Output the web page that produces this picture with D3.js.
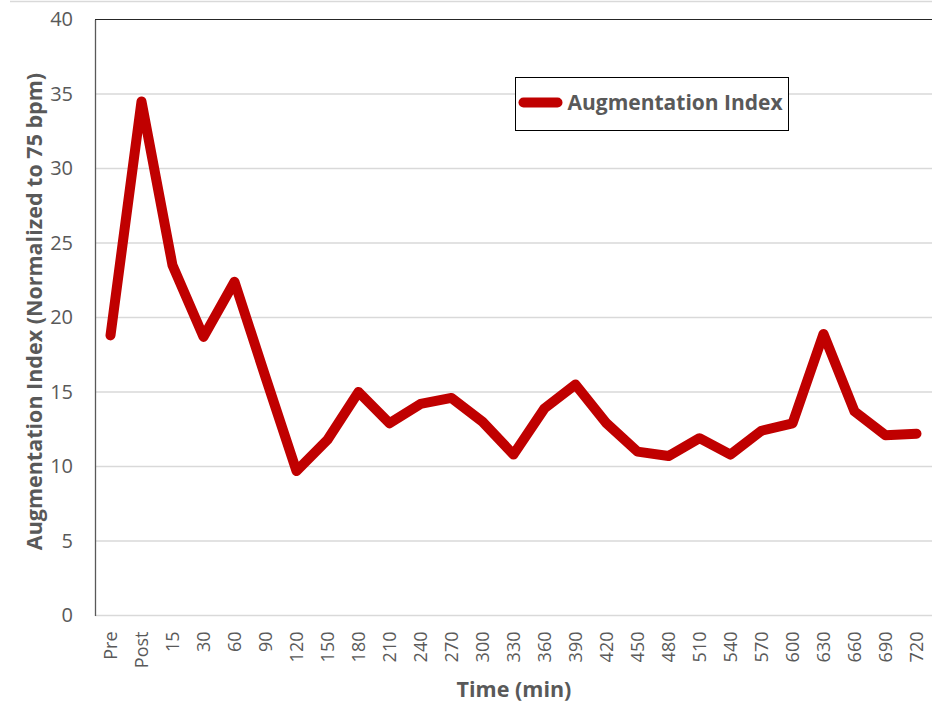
<!DOCTYPE html>
<html>
<head>
<meta charset="utf-8">
<script src="https://cdn.jsdelivr.net/npm/d3@7"></script>
<style>
  html, body { margin: 0; padding: 0; background: #fff; }
  svg { display: block; }
  text { font-family: "Open Sans", "Noto Sans", sans-serif; }
</style>
</head>
<body>
<svg id="chart" width="932" height="702"></svg>
<script>
// Time points and augmentation index readings
const timeLabels = ["Pre", "Post", "15", "30", "60", "90", "120", "150", "180", "210", "240",
  "270", "300", "330", "360", "390", "420", "450", "480", "510", "540", "570", "600",
  "630", "660", "690", "720"];
const aixValues = [18.8, 34.5, 23.5, 18.7, 22.4, 16.0, 9.7, 11.8, 15.0, 12.9, 14.2,
  14.6, 13.0, 10.8, 13.9, 15.5, 12.9, 11.0, 10.7, 11.9, 10.8, 12.4, 12.9,
  18.9, 13.7, 12.1, 12.2];
const yTicks = [0, 5, 10, 15, 20, 25, 30, 35, 40];

const seriesName = "Augmentation Index";
const xTitle = "Time (min)";
const yTitle = "Augmentation Index (Normalized to 75 bpm)";

const lineColor = "#C00000";
const textColor = "#595959";
const gridColor = "#d9d9d9";

const margin = { left: 95, right: 0, top: 19.5, bottom: 86.5 };
const W = 932, H = 702;

const svg = d3.select("#chart");

// outer frame line at the top
svg.append("line")
  .attr("x1", 10).attr("x2", W).attr("y1", 1.5).attr("y2", 1.5)
  .attr("stroke", gridColor).attr("stroke-width", 1.5);

const x = d3.scalePoint()
  .domain(timeLabels)
  .range([margin.left, W - margin.right])
  .padding(0.5);

const y = d3.scaleLinear()
  .domain([0, 40])
  .range([H - margin.bottom, margin.top]);

// horizontal gridlines
svg.append("g")
  .selectAll("line")
  .data(yTicks.filter(d => d < 40))
  .join("line")
  .attr("x1", margin.left).attr("x2", W)
  .attr("y1", d => y(d)).attr("y2", d => y(d))
  .attr("stroke", gridColor).attr("stroke-width", 1.5);

// top border of the plot area
svg.append("line")
  .attr("x1", margin.left).attr("x2", W)
  .attr("y1", y(40)).attr("y2", y(40))
  .attr("stroke", "#262626").attr("stroke-width", 1.2);

// y axis
const yAxis = svg.append("g")
  .attr("transform", `translate(${margin.left},0)`)
  .call(d3.axisLeft(y).tickValues(yTicks).tickSize(0).tickPadding(22));
yAxis.select(".domain").attr("stroke", "#595959").attr("stroke-width", 1.3);
yAxis.selectAll("text")
  .attr("fill", textColor)
  .style("font-size", "20px")
  .style("font-family", "'Open Sans', sans-serif");

// x axis, labels rotated vertically
const xAxis = svg.append("g")
  .attr("transform", `translate(0,${y(0)})`)
  .call(d3.axisBottom(x).tickSize(0).tickPadding(0));
xAxis.select(".domain").remove();
xAxis.selectAll("text")
  .attr("fill", textColor)
  .style("font-size", "18px")
  .style("font-family", "'Open Sans', sans-serif")
  .attr("text-anchor", "end")
  .attr("dy", "0.35em")
  .attr("transform", "translate(0,16) rotate(-90)")
  .attr("x", 0).attr("y", 0);

// axis titles
svg.append("text")
  .attr("x", 514).attr("y", 697)
  .attr("text-anchor", "middle")
  .attr("fill", textColor)
  .style("font-size", "21.5px").style("font-weight", "bold")
  .text(xTitle);

svg.append("text")
  .attr("transform", `translate(42,${y(20.4)}) rotate(-90)`)
  .attr("text-anchor", "middle")
  .attr("fill", textColor)
  .style("font-size", "21.5px").style("font-weight", "bold")
  .text(yTitle);

// data line
const line = d3.line()
  .x((d, i) => x(timeLabels[i]))
  .y(d => y(d));

svg.append("path")
  .datum(aixValues)
  .attr("d", line)
  .attr("fill", "none")
  .attr("stroke", lineColor)
  .attr("stroke-width", 10)
  .attr("stroke-linejoin", "round")
  .attr("stroke-linecap", "round");

// legend
const legend = svg.append("g").attr("transform", "translate(515.5,77.5)");
legend.append("rect")
  .attr("width", 273).attr("height", 53)
  .attr("fill", "#fff").attr("stroke", "#000").attr("stroke-width", 1);
legend.append("line")
  .attr("x1", 8).attr("x2", 42).attr("y1", 25).attr("y2", 25)
  .attr("stroke", lineColor).attr("stroke-width", 10)
  .attr("stroke-linecap", "round");
legend.append("text")
  .attr("x", 52).attr("y", 32)
  .attr("fill", textColor)
  .style("font-size", "21px").style("font-weight", "bold")
  .text(seriesName);
</script>
</body>
</html>
